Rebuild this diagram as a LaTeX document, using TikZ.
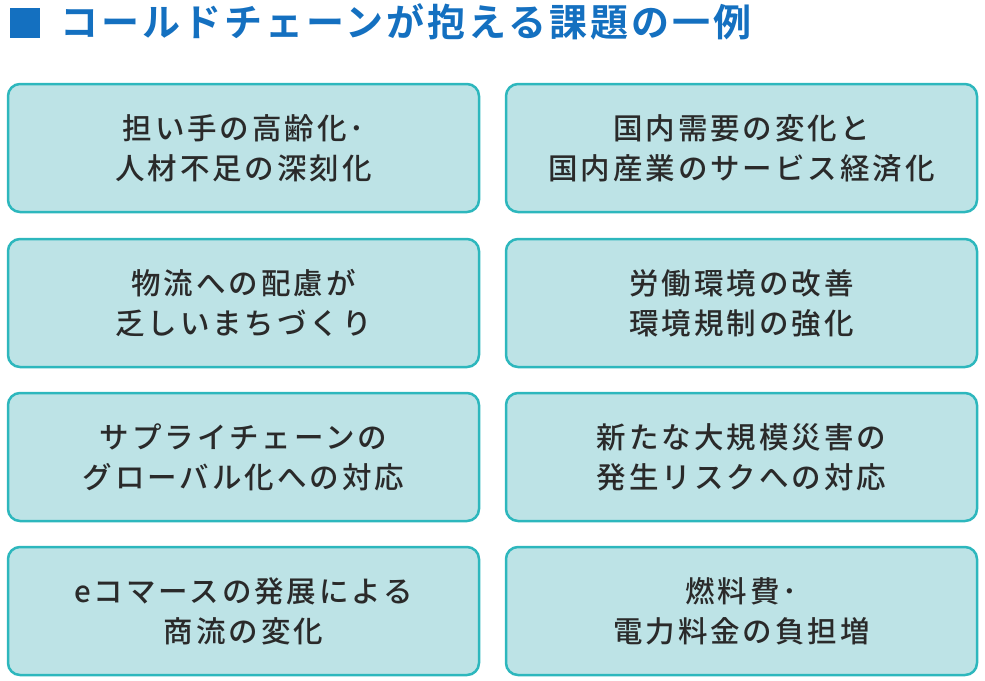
\documentclass[tikz,border=0pt]{standalone}
\usepackage{fontspec}
\setmainfont{Noto Sans CJK JP Medium}[LetterSpace=10]
\newfontfamily\jpbold{Noto Sans CJK JP Bold}[LetterSpace=8]
\definecolor{boxfill}{HTML}{BDE3E6}
\definecolor{boxline}{HTML}{2DB7BD}
\definecolor{titleblue}{HTML}{1470C0}
\definecolor{txt}{HTML}{2A2A2A}
\begin{document}
\begin{tikzpicture}[x=1pt,y=-1pt,
  card/.style={draw=boxline,line width=2.5pt,fill=boxfill,rounded corners=12pt,minimum width=471pt,minimum height=128pt,align=center,text=txt,font=\fontsize{29.5}{40}\selectfont}]
\useasboundingbox (0,0) rectangle (985,680);
\node[fill=titleblue,minimum width=30pt,minimum height=30pt,inner sep=0] (sq) at (25,23) {};
\node[anchor=west,text=titleblue,font=\jpbold\fontsize{38}{40}\selectfont,inner sep=0] (title) at (60,22) {コールドチェーンが抱える課題の一例};
\node[card] (a1) at (243.5,148) {担い手の高齢化･\\人材不足の深刻化};
\node[card] (b1) at (741.5,148) {国内需要の変化と\\国内産業のサービス経済化};
\node[card] (a2) at (243.5,303) {物流への配慮が\\乏しいまちづくり};
\node[card] (b2) at (741.5,303) {労働環境の改善\\環境規制の強化};
\node[card] (a3) at (243.5,457) {サプライチェーンの\\グローバル化への対応};
\node[card] (b3) at (741.5,457) {新たな大規模災害の\\発生リスクへの対応};
\node[card] (a4) at (243.5,611) {eコマースの発展による\\商流の変化};
\node[card] (b4) at (741.5,611) {燃料費･\\電力料金の負担増};
\end{tikzpicture}
\end{document}
